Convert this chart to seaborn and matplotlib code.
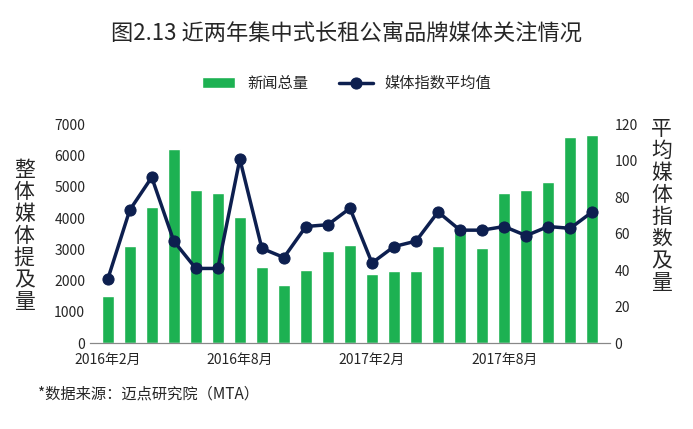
import numpy as np
import pandas as pd
import seaborn as sns
import matplotlib.pyplot as plt

months = ['2016-02', '2016-03', '2016-04', '2016-05', '2016-06', '2016-07', '2016-08', '2016-09',
          '2016-10', '2016-11', '2016-12', '2017-01', '2017-02', '2017-03', '2017-04', '2017-05',
          '2017-06', '2017-07', '2017-08', '2017-09', '2017-10', '2017-11', '2017-12']
news_total = [1500, 3100, 4350, 6200, 4900, 4800, 4050, 2450, 1850, 2350, 2950, 3150,
              2200, 2300, 2300, 3100, 3700, 3050, 4800, 4900, 5150, 6600, 6650]
media_index = [35, 73, 91, 56, 41, 41, 101, 52, 47, 64, 65, 74,
               44, 53, 56, 72, 62, 62, 64, 59, 64, 63, 72]
tick_labels = {0: '2016年2月', 6: '2016年8月', 12: '2017年2月', 18: '2017年8月'}

sns.set_style('white')
plt.rcParams['font.family'] = ['Noto Sans CJK SC', 'DejaVu Sans']

df = pd.DataFrame({'month': months, 'news': news_total, 'index': media_index})
df['pos'] = np.arange(len(df))

fig, ax = plt.subplots(figsize=(6.93, 4.29), dpi=100)
fig.subplots_adjust(left=0.13, right=0.88, top=0.71, bottom=0.2)
ax2 = ax.twinx()

ax.bar(df['pos'], df['news'], width=0.55, color='#1db152', label='新闻总量')
sns.lineplot(x='pos', y='index', data=df, ax=ax2, color='#0d1f4f', lw=2.5,
             marker='o', markersize=8, markeredgecolor='#0d1f4f',
             label='媒体指数平均值', legend=False)

ax.set_xlim(-0.8, len(df) - 0.2)
ax.set_ylim(0, 7000)
ax.set_yticks(range(0, 7001, 1000))
ax2.set_ylim(0, 120)
ax2.set_yticks(range(0, 121, 20))
ax.set_xticks(list(tick_labels.keys()))
ax.set_xticklabels(list(tick_labels.values()), fontsize=10)
ax.tick_params(axis='y', labelsize=10, length=0)
ax2.tick_params(axis='y', labelsize=10, length=0)
ax.set_xlabel('')
ax2.set_xlabel('')
ax2.set_ylabel('')
for a in (ax, ax2):
    for s in ['top', 'left', 'right']:
        a.spines[s].set_visible(False)
    a.spines['bottom'].set_color('#888888')

fig.text(0.035, 0.45, '整\n体\n媒\n体\n提\n及\n量', fontsize=15, ha='center', va='center', linespacing=1.0)
fig.text(0.955, 0.52, '平\n均\n媒\n体\n指\n数\n及\n量', fontsize=15, ha='center', va='center', linespacing=1.0)
fig.suptitle('图2.13 近两年集中式长租公寓品牌媒体关注情况', fontsize=16, y=0.95)

h1, l1 = ax.get_legend_handles_labels()
h2, l2 = ax2.get_legend_handles_labels()
fig.legend(h1 + h2, l1 + l2, loc='center', bbox_to_anchor=(0.5, 0.805), ncol=2,
           frameon=False, fontsize=11, handlelength=2.2, columnspacing=2)

fig.text(0.055, 0.07, '*数据来源：迈点研究院（MTA）', fontsize=11)

fig.savefig('out.png', dpi=100)
